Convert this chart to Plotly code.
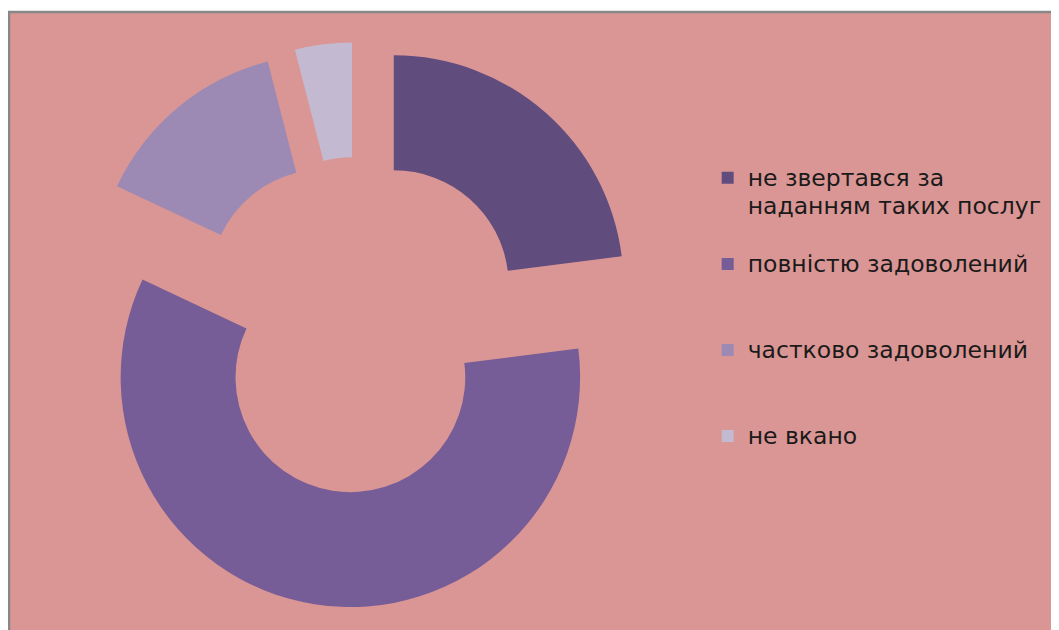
import plotly.graph_objects as go

# -- data --------------------------------------------------------------
labels = [
    "не звертався за<br>наданням таких послуг",
    "повністю задоволений",
    "частково задоволений",
    "не вкано",
]
values = [23, 59, 14, 4]
colors = ["#614C7E", "#775D97", "#9C8AB4", "#C3B9D1"]

W, H = 1059, 630

# legend rows: larger glyphs inside spans, blank lines pad the row spacing
span = '<span style="font-size:23.5px">'
legend_text = []
for lab in labels:
    n = lab.count("<br>") + 1
    txt = span + lab.replace("<br>", "</span><br>" + span) + "</span>"
    txt += "<br> " * (3 - n)
    legend_text.append(txt)

fig = go.Figure()
fig.add_trace(go.Pie(
    labels=legend_text,
    values=values,
    hole=0.5,
    pull=[0.231] * len(values),
    sort=False,
    direction="clockwise",
    rotation=0,
    textinfo="none",
    marker=dict(colors=colors, line=dict(width=0)),
    domain=dict(x=[0.0641, 0.5982], y=[0.0481, 0.9459]),
))

# pink chart area with grey border (cropped on the right and bottom)
fig.add_shape(
    type="rect", xref="paper", yref="paper",
    x0=1 / W, x1=1.02, y0=-0.02, y1=1 - 4 / H,
    fillcolor="#DA9694", line=dict(color="#888888", width=2.5),
    layer="below",
)

fig.update_layout(
    width=W, height=H,
    margin=dict(l=0, r=0, t=0, b=0),
    paper_bgcolor="white",
    showlegend=True,
    legend=dict(
        x=0.6607, xanchor="left",
        y=0.7627, yanchor="top",
        font=dict(family="DejaVu Sans, Liberation Sans, sans-serif", size=21.3, color="#1a1a1a"),
        valign="top",
        bgcolor="rgba(0,0,0,0)",
        traceorder="normal",
    ),
)

fig.write_html("out.html")
